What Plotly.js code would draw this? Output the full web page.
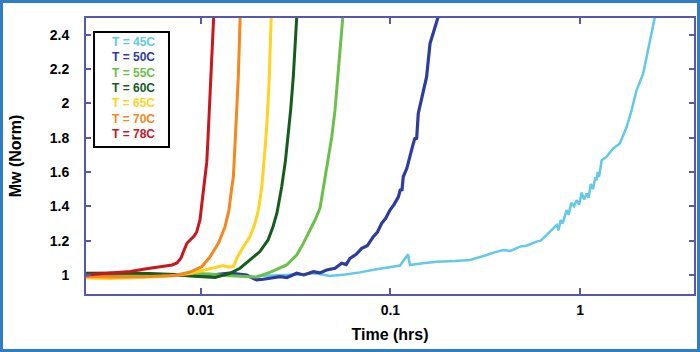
<!DOCTYPE html>
<html>
<head>
<meta charset="utf-8">
<script src="https://cdn.plot.ly/plotly-3.0.1.min.js"></script>
<style>
html,body{margin:0;padding:0;background:#fff;}
#chart{width:700px;height:352px;box-sizing:border-box;border:3px solid #2f7dc4;}
</style>
</head>
<body>
<div id="chart"></div>
<script>
// ---- data (time in hrs, Mw normalised) ----
const seriesLabels = ["T = 45C","T = 50C","T = 55C","T = 60C","T = 65C","T = 70C","T = 78C"];

const t45 = [0.01982,0.02618,0.03334,0.04009,0.04808,0.05768,0.06918,0.08299,0.09954,0.1125,0.1239,0.1268,0.1521,0.1762,0.2188,0.263,0.3221,0.35,0.3936,0.43,0.4819,0.52,0.5902,0.62,0.6668,0.7534,0.77,0.79,0.81,0.8492,0.87,0.9,0.93,0.9594,0.99,1.02,1.05,1.084,1.11,1.14,1.17,1.2,1.222,1.24,1.26,1.3,1.38,1.496,1.622,1.762,1.871,1.986,2.153,2.333,2.5];
const mw45 = [0.994,0.997,1.003,1.01,0.994,1.003,1.015,1.032,1.048,1.055,1.12,1.058,1.07,1.077,1.081,1.087,1.116,1.13,1.145,1.14,1.165,1.17,1.194,1.2,1.233,1.291,1.26,1.32,1.3,1.378,1.35,1.42,1.4,1.436,1.41,1.48,1.44,1.475,1.45,1.53,1.5,1.56,1.553,1.6,1.57,1.669,1.688,1.737,1.766,1.863,1.96,2.076,2.173,2.367,2.52];

const t50 = [0.00246,0.00541,0.00991,0.01164,0.01426,0.01746,0.01972,0.02138,0.02618,0.0285,0.03206,0.035,0.03926,0.0425,0.04613,0.05105,0.05534,0.0585,0.06124,0.066,0.07063,0.0755,0.08128,0.0855,0.08995,0.0945,0.09954,0.1045,0.1102,0.113,0.115,0.1169,0.122,0.127,0.1321,0.135,0.1375,0.1403,0.1475,0.1552,0.1618,0.1805];
const mw50 = [0.997,1.0,1.0,1.0,1.01,1.0,0.971,0.975,0.99,0.985,1.01,1.0,1.019,1.012,1.029,1.039,1.068,1.06,1.097,1.12,1.155,1.17,1.223,1.25,1.301,1.33,1.378,1.41,1.455,1.5,1.49,1.572,1.62,1.7,1.766,1.8,1.79,1.941,2.04,2.154,2.348,2.52];

const t55 = [0.00246,0.00424,0.00689,0.00933,0.0112,0.01343,0.01611,0.01972,0.02317,0.02838,0.03206,0.03475,0.03767,0.04009,0.04256,0.04467,0.0471,0.04909,0.05105,0.05248,0.0542,0.0563];
const mw55 = [1.006,1.003,1.0,1.009,1.006,0.997,0.991,0.988,1.015,1.058,1.116,1.184,1.262,1.32,1.39,1.533,1.688,1.805,1.96,2.115,2.309,2.52];

const t60 = [0.00246,0.00376,0.00541,0.00733,0.00879,0.01054,0.01189,0.01294,0.01426,0.01611,0.0182,0.02051,0.02265,0.02404,0.02523,0.02673,0.02799,0.02864,0.02979,0.03076,0.03215];
const mw60 = [1.01,1.012,1.009,1.003,0.994,0.99,0.985,0.997,1.01,1.039,1.087,1.136,1.204,1.281,1.361,1.514,1.669,1.766,1.96,2.154,2.52];

const t65 = [0.00246,0.00333,0.00479,0.00689,0.00879,0.01054,0.01189,0.01312,0.01393,0.01486,0.01549,0.01679,0.0182,0.01932,0.02014,0.02099,0.02158,0.02228,0.02291,0.02355];
const mw65 = [0.983,0.98,0.985,0.994,1.009,1.029,1.044,1.055,1.047,1.049,1.097,1.165,1.223,1.301,1.378,1.514,1.669,1.863,2.115,2.52];

const t70 = [0.00246,0.00376,0.00541,0.00733,0.00879,0.01012,0.0112,0.01239,0.01343,0.01409,0.01452,0.01486,0.01517,0.01549,0.01578,0.01597,0.01615];
const mw70 = [0.991,0.988,0.991,0.997,1.017,1.048,1.106,1.184,1.281,1.378,1.494,1.572,1.766,1.96,2.154,2.338,2.52];

const t78 = [0.00246,0.00294,0.00353,0.00424,0.00508,0.00632,0.00706,0.0075,0.00787,0.00817,0.00847,0.00879,0.00923,0.00953,0.00973,0.00991,0.01009,0.01028,0.01054,0.01076,0.01091,0.01112,0.01132,0.01153,0.01172];
const mw78 = [1.0,1.006,1.012,1.02,1.035,1.048,1.058,1.07,1.099,1.145,1.186,1.204,1.227,1.252,1.285,1.32,1.396,1.477,1.582,1.657,1.785,1.96,2.134,2.309,2.52];

const xTickVals = [0.01,0.1,1];
const xTickText = ["0.01","0.1","1"];
const yTickVals = [1,1.2,1.4,1.6,1.8,2,2.2,2.4];
const yTickText = ["1","1.2","1.4","1.6","1.8","2","2.2","2.4"];

// ---- styling ----
const colors = ["#62c9e8","#2e3ca0","#6cc04a","#175c1f","#ffd320","#f7861c","#c8171f"];
const widths = [2.5,3.2,3,3,3,3,3];
const xs = [t45,t50,t55,t60,t65,t70,t78];
const ys = [mw45,mw50,mw55,mw60,mw65,mw70,mw78];

const traces = xs.map((x,i)=>({
  x:x, y:ys[i], type:'scatter', mode:'lines', name:seriesLabels[i],
  line:{color:colors[i], width:widths[i]}, showlegend:false
}));

const axisCol = "#5757b0";
const fontFam = "Liberation Sans, Arial, sans-serif";

// legend drawn as box + coloured text
const legYs = [0.9141,0.8576,0.8018,0.7453,0.6909,0.6341,0.5786];
const annotations = seriesLabels.map((s,i)=>({
  xref:'paper', yref:'paper', x:0.0789, y:legYs[i], xanchor:'center', yanchor:'middle',
  text:s, showarrow:false, font:{family:fontFam, size:12, weight:700, color:colors[i]}
}));

const layout = {
  width:694, height:346,
  margin:{l:83, r:3, t:15, b:55},
  paper_bgcolor:'#fff', plot_bgcolor:'#fff',
  font:{family:fontFam, color:'#000'},
  xaxis:{
    type:'log', range:[-2.605,0.601],
    tickvals:xTickVals, ticktext:xTickText,
    ticks:'inside', ticklen:6, tickwidth:2, tickcolor:axisCol,
    showline:true, linecolor:axisCol, linewidth:2, mirror:'ticks',
    showgrid:false, zeroline:false,
    tickfont:{family:fontFam, size:14, weight:700, color:'#000'},
    ticklabelstandoff:2,
    title:{text:'Time (hrs)', font:{family:fontFam, size:16, weight:700, color:'#000'}, standoff:12}
  },
  yaxis:{
    range:[0.889,2.497],
    tickvals:yTickVals, ticktext:yTickText,
    ticks:'inside', ticklen:5, tickwidth:2, tickcolor:axisCol,
    showline:true, linecolor:axisCol, linewidth:2, mirror:'ticks',
    showgrid:false, zeroline:false,
    tickfont:{family:fontFam, size:14, weight:700, color:'#000'},
    ticklabelstandoff:12,
    title:{text:'Mw (Norm)', font:{family:fontFam, size:16, weight:700, color:'#000'}, standoff:24}
  },
  shapes:[{type:'rect', xref:'paper', yref:'paper', x0:0.0132, x1:0.1365, y0:0.5326, y1:0.9493,
    line:{color:'#000', width:2}, fillcolor:'rgba(0,0,0,0)', layer:'above'}],
  annotations:annotations
};

Plotly.newPlot('chart', traces, layout, {staticPlot:true, displayModeBar:false});
</script>
</body>
</html>
